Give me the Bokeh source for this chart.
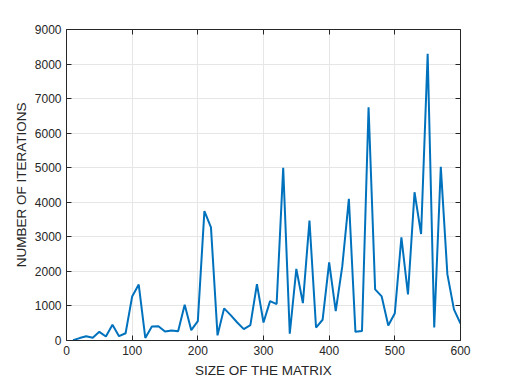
from bokeh.plotting import figure
from bokeh.models import LinearAxis, FixedTicker, ColumnDataSource
from bokeh.embed import file_html
from bokeh.resources import INLINE

sizes = [10, 20, 30, 40, 50, 60, 70, 80, 90, 100,
         110, 120, 130, 140, 150, 160, 170, 180, 190, 200,
         210, 220, 230, 240, 250, 260, 270, 280, 290, 300,
         310, 320, 330, 340, 350, 360, 370, 380, 390, 400,
         410, 420, 430, 440, 450, 460, 470, 480, 490, 500,
         510, 520, 530, 540, 550, 560, 570, 580, 590, 600]
iterations = [10, 70, 125, 80, 250, 115, 455, 125, 210, 1275,
              1620, 75, 405, 415, 260, 290, 270, 1035, 300, 560,
              3745, 3275, 150, 930, 735, 520, 330, 445, 1630, 520,
              1140, 1055, 4995, 195, 2070, 1080, 3470, 375, 600, 2260,
              850, 2150, 4100, 250, 275, 6750, 1480, 1275, 435, 790,
              2985, 1335, 4290, 3080, 8300, 375, 5025, 1920, 900, 490]
x_ticks = [0, 100, 200, 300, 400, 500, 600]
y_ticks = [0, 1000, 2000, 3000, 4000, 5000, 6000, 7000, 8000, 9000]

src = ColumnDataSource(dict(x=sizes, y=iterations))

FONT = "Liberation Sans"
AX = "#262626"

p = figure(width=509, height=382, x_range=(0, 600), y_range=(0, 9000),
           output_backend="svg", toolbar_location=None,
           min_border_left=66, min_border_right=49, min_border_top=29, min_border_bottom=42,
           x_axis_label="SIZE OF THE MATRIX", y_axis_label="NUMBER OF ITERATIONS")
p.outline_line_color = None
p.background_fill_color = "white"
p.border_fill_color = "white"

p.line("x", "y", source=src, line_color="#0072BD", line_width=2)

def style_axis(ax):
    ax.axis_line_color = AX
    ax.axis_line_width = 1
    ax.major_tick_line_color = AX
    ax.major_tick_in = 5
    ax.major_tick_out = 0
    ax.minor_tick_line_color = None
    ax.major_label_text_font = FONT
    ax.major_label_text_color = AX
    ax.major_label_text_font_size = "12px"
    ax.axis_label_text_font = FONT
    ax.axis_label_text_font_style = "normal"
    ax.axis_label_text_color = AX
    ax.axis_label_text_font_size = "13.5px"

p.xaxis.ticker = FixedTicker(ticks=x_ticks)
p.yaxis.ticker = FixedTicker(ticks=y_ticks)
for ax in p.xaxis + p.yaxis:
    style_axis(ax)
p.xaxis.major_label_standoff = 5
p.xaxis.axis_label_standoff = 5
p.yaxis.major_label_standoff = 5
p.yaxis.axis_label_standoff = 3

top = LinearAxis(ticker=FixedTicker(ticks=x_ticks),
                 major_label_overrides={t: "" for t in x_ticks})
right = LinearAxis(ticker=FixedTicker(ticks=y_ticks),
                   major_label_overrides={t: "" for t in y_ticks})
for ax in (top, right):
    style_axis(ax)
    ax.major_label_standoff = 0
p.add_layout(top, "above")
p.add_layout(right, "right")

p.xgrid.ticker = FixedTicker(ticks=x_ticks)
p.ygrid.ticker = FixedTicker(ticks=y_ticks)
p.grid.grid_line_color = "#e6e6e6"
p.grid.grid_line_width = 1

open("out.html", "w").write(file_html(p, INLINE))
